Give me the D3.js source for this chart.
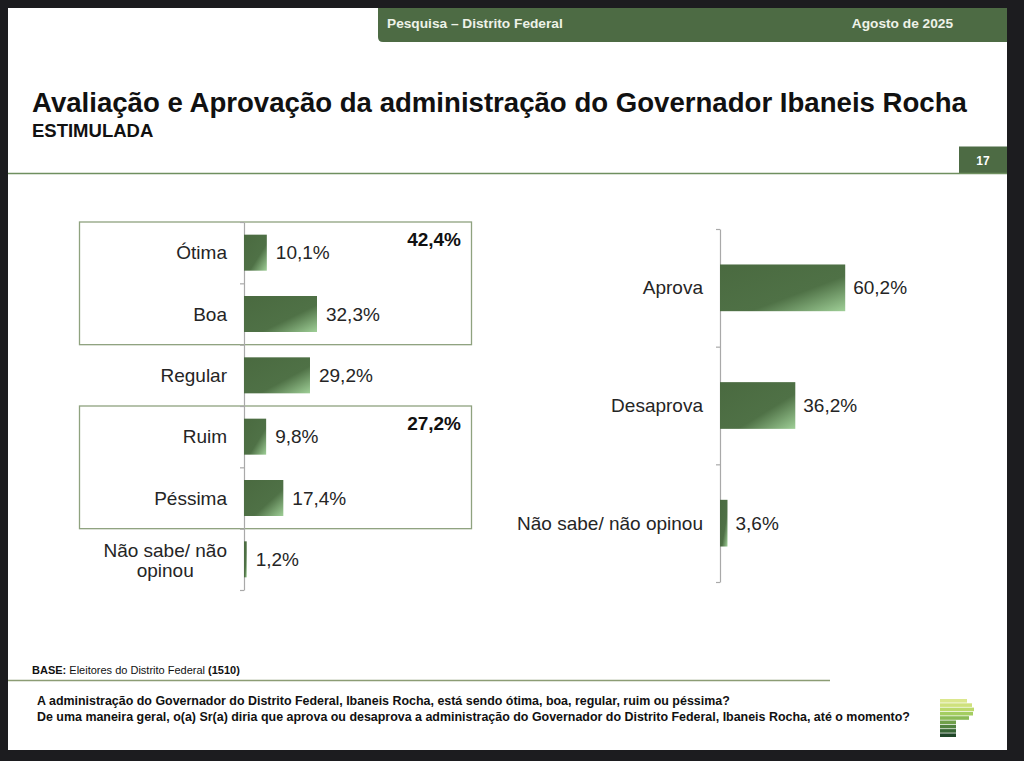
<!DOCTYPE html>
<html>
<head>
<meta charset="utf-8">
<script src="https://cdn.jsdelivr.net/npm/d3@7"></script>
<style>
  html, body { margin: 0; padding: 0; background: #1c1c1f; }
  svg { display: block; font-family: "Liberation Sans", Arial, sans-serif; }
</style>
</head>
<body>
<div id="chart"></div>
<script>
// data
const avalCats = ["Ótima", "Boa", "Regular", "Ruim", "Péssima", "Não sabe/ não opinou"];
const avalVals = [10.1, 32.3, 29.2, 9.8, 17.4, 1.2];
const groupRanges = [["Ótima", "Boa"], ["Ruim", "Péssima"]];
const groupTotals = [42.4, 27.2];

const aprovCats = ["Aprova", "Desaprova", "Não sabe/ não opinou"];
const aprovVals = [60.2, 36.2, 3.6];

const headerLeft = "Pesquisa – Distrito Federal";
const headerRight = "Agosto de 2025";
const title = "Avaliação e Aprovação da administração do Governador Ibaneis Rocha";
const subtitle = "ESTIMULADA";
const pageNo = "17";
const questions = [
  "A administração do Governador do Distrito Federal, Ibaneis Rocha, está sendo ótima, boa, regular, ruim ou péssima?",
  "De uma maneira geral, o(a) Sr(a) diria que aprova ou desaprova a administração do Governador do Distrito Federal, Ibaneis Rocha, até o momento?"
];

const W = 1024, H = 761;
const green = "#4d6b44";
const textCol = "#252525";
const pct = v => d3.format(".1f")(v).replace(".", ",") + "%";

const svg = d3.select("#chart").append("svg")
  .attr("width", W).attr("height", H);

// slide background
svg.append("rect").attr("width", W).attr("height", H).attr("fill", "#1c1c1f");
svg.append("rect").attr("x", 8).attr("y", 8).attr("width", 999).attr("height", 742).attr("fill", "#fff");

// bar gradient
const defs = svg.append("defs");
const grad = defs.append("linearGradient").attr("id", "barGrad")
  .attr("x1", 0).attr("y1", 0).attr("x2", 1).attr("y2", 1);
grad.append("stop").attr("offset", "0%").attr("stop-color", "#4a6a40");
grad.append("stop").attr("offset", "62%").attr("stop-color", "#4f7146");
grad.append("stop").attr("offset", "100%").attr("stop-color", "#9fcf97");

// header bar with rounded bottom-left corner
svg.append("path")
  .attr("d", "M378,8 H1007 V42 H383 Q378,42 378,37 Z")
  .attr("fill", green);
svg.append("text").attr("x", 387).attr("y", 28)
  .style("font-size", "13.7px").style("font-weight", "bold").attr("fill", "#eef2e8")
  .text(headerLeft);
svg.append("text").attr("x", 953).attr("y", 28).attr("text-anchor", "end")
  .style("font-size", "13.7px").style("font-weight", "bold").attr("fill", "#eef2e8")
  .text(headerRight);

// title block
svg.append("text").attr("x", 32).attr("y", 111.5)
  .style("font-size", "27.6px").style("font-weight", "bold").attr("fill", "#111")
  .text(title);
svg.append("text").attr("x", 32).attr("y", 136.5)
  .style("font-size", "18.5px").style("font-weight", "bold").attr("fill", "#111")
  .text(subtitle);

svg.append("rect").attr("x", 959).attr("y", 146.5).attr("width", 48).attr("height", 27).attr("fill", green);
svg.append("text").attr("x", 983).attr("y", 165).attr("text-anchor", "middle")
  .style("font-size", "12px").style("font-weight", "bold").attr("fill", "#fff")
  .text(pageNo);
svg.append("line").attr("x1", 8).attr("x2", 1007).attr("y1", 173.5).attr("y2", 173.5)
  .attr("stroke", "#6f8f5f").attr("stroke-width", 1.5);

// helper: axis with ticks on band boundaries
function bandAxis(band, xPos) {
  const n = band.domain().length;
  const idx = d3.scaleLinear().domain([0, n]).range(band.range());
  svg.append("g")
    .attr("transform", `translate(${xPos},0)`)
    .call(d3.axisLeft(idx).tickValues(d3.range(n + 1)).tickSize(4).tickSizeOuter(0).tickFormat(""))
    .call(g => g.selectAll("path, line").attr("stroke", "#a9a9a9").attr("stroke-width", 1.2));
}

// ---------- left chart: avaliação ----------
const yL = d3.scaleBand().domain(avalCats).range([222, 590]);
const xL = d3.scaleLinear().domain([0, 100]).range([244, 470]);
const barHL = yL.bandwidth() * 0.587;

// group boxes
groupRanges.forEach((r, i) => {
  const y0 = yL(r[0]), y1 = yL(r[1]) + yL.bandwidth();
  svg.append("rect")
    .attr("x", 79.5).attr("y", y0).attr("width", 392).attr("height", y1 - y0)
    .attr("fill", "none").attr("stroke", "#8fa27f").attr("stroke-width", 1.3);
  svg.append("text")
    .attr("x", 461).attr("y", y0 + 24).attr("text-anchor", "end")
    .style("font-size", "19px").style("font-weight", "bold").attr("fill", "#111")
    .text(pct(groupTotals[i]));
});

bandAxis(yL, 244);

svg.append("g").selectAll("rect")
  .data(avalCats)
  .join("rect")
  .attr("x", xL(0))
  .attr("y", d => yL(d) + (yL.bandwidth() - barHL) / 2)
  .attr("width", (d, i) => xL(avalVals[i]) - xL(0))
  .attr("height", barHL)
  .attr("fill", "url(#barGrad)");

svg.append("g").selectAll("text")
  .data(avalCats)
  .join("text")
  .attr("x", (d, i) => xL(avalVals[i]) + 9)
  .attr("y", d => yL(d) + yL.bandwidth() / 2)
  .attr("dy", "0.35em")
  .style("font-size", "19px").attr("fill", textCol)
  .text((d, i) => pct(avalVals[i]));

// category labels, long one wrapped on two lines and centred
const labL = svg.append("g");
avalCats.forEach(c => {
  const cy = yL(c) + yL.bandwidth() / 2;
  if (c.length > 15) {
    const cut = c.lastIndexOf(" ");
    const l1 = c.slice(0, cut), l2 = c.slice(cut + 1);
    const t1 = labL.append("text").attr("y", cy - 2.5)
      .attr("text-anchor", "middle").style("font-size", "19px").attr("fill", textCol).text(l1);
    const w1 = t1.node().getComputedTextLength();
    const cx = 227 - w1 / 2;
    t1.attr("x", cx);
    labL.append("text").attr("x", cx).attr("y", cy + 18)
      .attr("text-anchor", "middle").style("font-size", "19px").attr("fill", textCol).text(l2);
  } else {
    labL.append("text").attr("x", 227).attr("y", cy).attr("dy", "0.35em")
      .attr("text-anchor", "end").style("font-size", "19px").attr("fill", textCol).text(c);
  }
});

// ---------- right chart: aprovação ----------
const yR = d3.scaleBand().domain(aprovCats).range([229, 582]);
const xR = d3.scaleLinear().domain([0, 100]).range([720, 928]);
const barHR = yR.bandwidth() * 0.397;

bandAxis(yR, 720);

svg.append("g").selectAll("rect")
  .data(aprovCats)
  .join("rect")
  .attr("x", xR(0))
  .attr("y", d => yR(d) + (yR.bandwidth() - barHR) / 2)
  .attr("width", (d, i) => xR(aprovVals[i]) - xR(0))
  .attr("height", barHR)
  .attr("fill", "url(#barGrad)");

svg.append("g").selectAll("text.val")
  .data(aprovCats)
  .join("text")
  .attr("x", (d, i) => xR(aprovVals[i]) + 8)
  .attr("y", d => yR(d) + yR.bandwidth() / 2)
  .attr("dy", "0.35em")
  .style("font-size", "19px").attr("fill", textCol)
  .text((d, i) => pct(aprovVals[i]));

svg.append("g").selectAll("text")
  .data(aprovCats)
  .join("text")
  .attr("x", 703)
  .attr("y", d => yR(d) + yR.bandwidth() / 2)
  .attr("dy", "0.35em")
  .attr("text-anchor", "end")
  .style("font-size", "19px").attr("fill", textCol)
  .text(d => d);

// ---------- footer ----------
const base = svg.append("text").attr("x", 32).attr("y", 674)
  .style("font-size", "11px").attr("fill", "#111");
base.append("tspan").style("font-weight", "bold").text("BASE:");
base.append("tspan").text(" Eleitores do Distrito Federal ");
base.append("tspan").style("font-weight", "bold").text("(1510)");

svg.append("line").attr("x1", 8).attr("x2", 830).attr("y1", 680.5).attr("y2", 680.5)
  .attr("stroke", "#8c9c74").attr("stroke-width", 1.5);

svg.append("g").selectAll("text")
  .data(questions)
  .join("text")
  .attr("x", 37)
  .attr("y", (d, i) => 705 + i * 16)
  .style("font-size", "12.45px").style("font-weight", "bold").attr("fill", "#111")
  .text(d => d);

// logo: striped "P"
const logoCols = ["#dbe78e", "#cfe17d", "#bcd96c", "#a4cd61", "#8bbb56", "#6f9f4a", "#518240", "#386636", "#1f4628"];
const logoRight = [967, 972, 974, 973, 969, 956, 956, 956, 956];
svg.append("g").selectAll("rect")
  .data(logoCols)
  .join("rect")
  .attr("x", 940)
  .attr("y", (d, i) => 699 + i * 4.3)
  .attr("width", (d, i) => logoRight[i] - 940)
  .attr("height", 3.6)
  .attr("fill", d => d);
</script>
</body>
</html>
